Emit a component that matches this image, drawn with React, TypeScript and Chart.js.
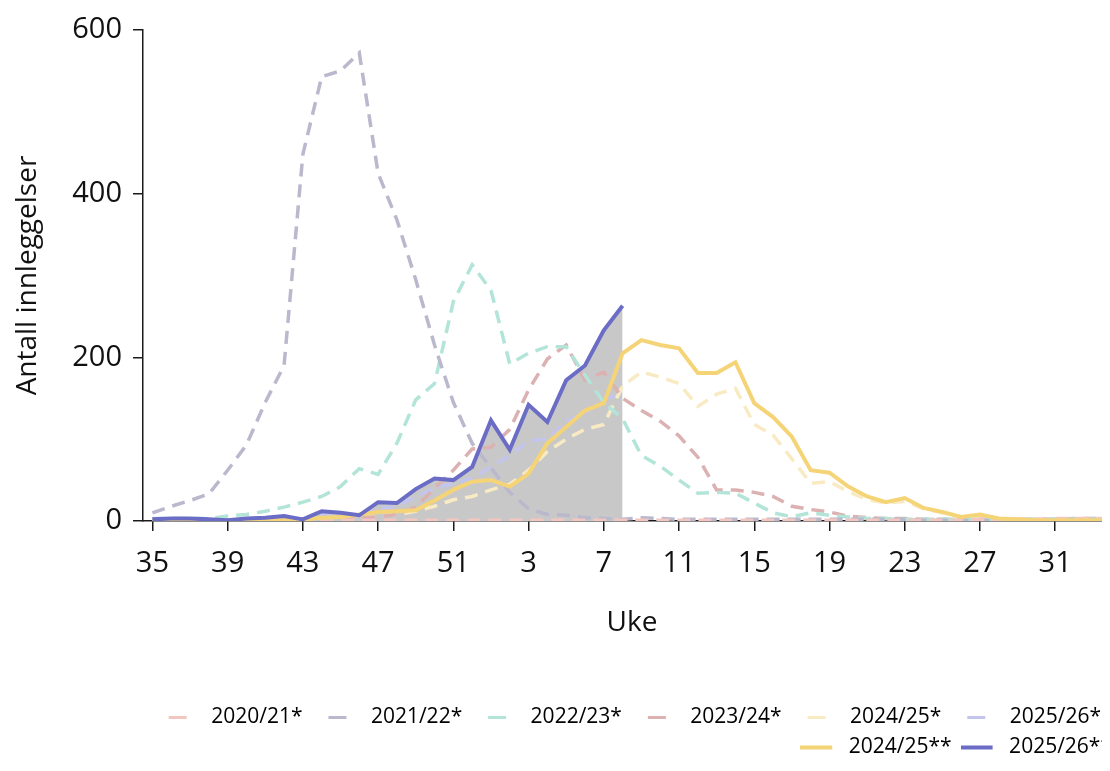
import React, { useEffect, useRef } from "react";
import { Chart, registerables } from "chart.js";

Chart.register(...registerables);

const weeks = ["35","36","37","38","39","40","41","42","43","44","45","46","47","48","49","50","51","52","1","2","3","4","5","6","7","8","9","10","11","12","13","14","15","16","17","18","19","20","21","22","23","24","25","26","27","28","29","30","31","32","33","34"];

const s2020_21 = [1,1,2,1,1,1,1,1,0,1,1,1,1,1,1,1,1,1,1,1,1,1,1,1,1,1,1,1,1,1,1,1,1,1,1,1,1,1,1,1,1,1,1,1,2,2,2,2,3,3,3,3];
const s2021_22 = [10,18,25,33,62,93,145,190,448,543,550,572,425,368,295,215,145,95,65,35,15,8,7,4,3,2,4,3,2,2,2,2,2,2,2,2,2,2,2,2,2,1,1,1,1,1,1,1,1,1,1,1];
const s2022_23 = [3,3,3,3,6,8,12,17,23,30,42,64,57,95,148,168,268,313,282,192,205,213,213,178,145,125,80,67,50,34,35,34,22,10,5,10,7,5,3,3,2,2,2,2,2,2,2,2,2,2,2,2];
const s2023_24 = [1,1,1,1,1,1,2,2,2,3,3,4,5,8,17,40,62,88,90,112,160,198,215,172,182,150,135,122,104,78,38,38,35,30,18,14,11,6,4,3,3,2,2,2,2,2,2,2,2,3,3,3];
const s2024_25a = [1,1,1,1,1,1,1,1,2,2,3,4,6,8,12,18,26,30,38,45,62,85,100,112,118,165,182,176,168,140,155,162,118,105,76,46,48,36,26,22,24,15,10,5,6,3,2,1,1,1,1,1];
const s2025_26a = [2,2,3,2,1,2,3,4,2,8,7,6,15,18,30,40,46,52,66,80,98,100,122,132,150,155];
const s2024_25b = [0,0,0,0,0,0,1,1,2,4,5,8,11,12,13,25,38,48,50,42,58,95,115,135,144,205,221,215,211,181,181,194,144,127,103,62,59,42,30,23,28,16,11,5,8,3,2,1,1,1,1,1];
const s2025_26b = [2,3,3,2,1,3,4,6,2,12,10,7,23,22,39,52,50,66,123,87,142,121,172,190,233,263];

const yTicks = [0, 200, 400, 600];

const FONT = "'Open Sans'";

function dashImage(color: string, solid: boolean): HTMLCanvasElement {
  const c = document.createElement("canvas");
  c.width = 38;
  c.height = 5;
  const g = c.getContext("2d")!;
  g.fillStyle = color;
  if (solid) g.fillRect(0, 0.5, 32, 4);
  else g.fillRect(6, 1, 18, 3);
  return c;
}

export default function App() {
  const ref = useRef<HTMLCanvasElement>(null);

  useEffect(() => {
    const dashed = (label: string, data: number[], color: string) => ({
      label,
      data,
      borderColor: color,
      backgroundColor: color,
      borderWidth: 3.5,
      borderDash: [13, 8],
      pointRadius: 0,
      tension: 0,
      fill: false,
      order: 2,
    });
    const chart = new Chart(ref.current!, {
      type: "line",
      data: {
        labels: weeks,
        datasets: [
          dashed("2020/21*", s2020_21, "#f3c6c0"),
          dashed("2021/22*", s2021_22, "#b9b8cd"),
          dashed("2022/23*", s2022_23, "#b3e4d8"),
          dashed("2023/24*", s2023_24, "#dbb1b2"),
          dashed("2024/25*", s2024_25a, "#f8ebc3"),
          dashed("2025/26*", s2025_26a, "#c4c5ec"),
          {
            label: "2024/25**",
            data: s2024_25b,
            borderColor: "#f5d477",
            backgroundColor: "#f5d477",
            borderWidth: 4,
            pointRadius: 0,
            tension: 0,
            fill: false,
            order: 1,
          },
          {
            label: "2025/26**",
            data: s2025_26b,
            borderColor: "#6b6cc6",
            backgroundColor: "#c8c8c8",
            borderWidth: 4,
            pointRadius: 0,
            tension: 0,
            fill: "origin",
            order: 0,
          },
        ],
      },
      options: {
        responsive: false,
        animation: false,
        events: [],
        layout: { padding: { top: 0, right: 12, left: 0, bottom: 0 } },
        plugins: {
          filler: { drawTime: "beforeDatasetsDraw" },
          tooltip: { enabled: false },
          legend: {
            position: "bottom",
            align: "end",
            labels: {
              usePointStyle: true,
              pointStyleWidth: 38,
              boxHeight: 4,
              padding: 9,
              color: "#1a1a1a",
              font: { family: FONT, size: 21 },
              generateLabels: (ch: any) =>
                ch.data.datasets.map((ds: any, i: number) => {
                  const solid = !ds.borderDash;
                  return {
                    text: solid ? ds.label : ds.label + "  ",
                    fillStyle: ds.borderColor,
                    strokeStyle: ds.borderColor,
                    lineWidth: 0,
                    hidden: false,
                    datasetIndex: i,
                    pointStyle: dashImage(ds.borderColor, solid),
                  };
                }),
            },
          },
        },
        scales: {
          x: {
            type: "category",
            offset: true,
            afterFit: (axis: any) => {
              axis.height = 177;
            },
            border: { display: true, color: "#1a1a1a", width: 1.5 },
            grid: {
              drawOnChartArea: false,
              drawTicks: true,
              tickLength: 10,
              lineWidth: 1.5,
              color: (ctx: any) => (ctx.index % 4 === 0 ? "#1a1a1a" : "rgba(0,0,0,0)"),
            },
            ticks: {
              autoSkip: false,
              maxRotation: 0,
              padding: 15,
              color: "#111",
              font: { family: FONT, size: 29 },
              callback: (_v: any, i: number) => (i % 4 === 0 ? weeks[i] : ""),
            },
            title: {
              display: true,
              text: "Uke",
              color: "#111",
              font: { family: FONT, size: 28 },
              padding: { top: 24, bottom: 58 },
            },
          },
          y: {
            min: 0,
            max: 600,
            afterFit: (axis: any) => {
              axis.width = 135;
              axis.paddingTop = 22;
            },
            border: { display: true, color: "#1a1a1a", width: 1.5 },
            grid: {
              drawOnChartArea: false,
              drawTicks: true,
              tickLength: 10,
              lineWidth: 1.5,
              color: "#1a1a1a",
            },
            afterBuildTicks: (axis: any) => {
              axis.ticks = yTicks.map((v) => ({ value: v }));
            },
            ticks: {
              padding: 11,
              color: "#111",
              font: { family: FONT, size: 29 },
            },
            title: {
              display: true,
              text: "Antall innleggelser",
              color: "#111",
              font: { family: FONT, size: 28 },
              padding: { top: 3, bottom: 27 },
            },
          },
        },
      },
    } as any);
    return () => chart.destroy();
  }, []);

  return (
    <div style={{ width: 1102, height: 755, overflow: "hidden" }}>
      <canvas
        ref={ref}
        width={1125}
        height={760}
        style={{ display: "block", width: 1125, height: 760 }}
      />
    </div>
  );
}
